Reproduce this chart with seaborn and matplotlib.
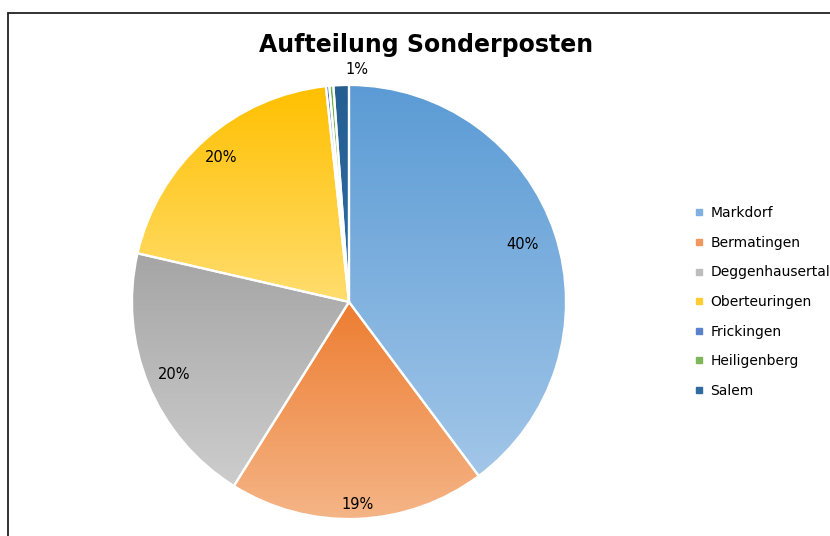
import numpy as np
import matplotlib
matplotlib.use("Agg")
import matplotlib.pyplot as plt
import seaborn as sns
from matplotlib.colors import LinearSegmentedColormap, to_rgb
from matplotlib.lines import Line2D

# data
orte = ["Markdorf", "Bermatingen", "Deggenhausertal", "Oberteuringen",
        "Frickingen", "Heiligenberg", "Salem"]
anteile = [39.8, 19.1, 19.7, 19.7, 0.25, 0.3, 1.15]

# top (dark) and bottom (light) colour of each slice gradient
farben_oben = ["#5B9BD5", "#ED7D31", "#A5A5A5", "#FFC000", "#4472C4", "#70AD47", "#255E91"]
farben_unten = ["#A2C6E8", "#F5B587", "#CDCDCD", "#FFDD6E", "#6E92D2", "#8EC06C", "#2E6DA6"]
legende_farben = ["#7EB0E0", "#F09860", "#BDBDBD", "#FFCC33", "#5A82CC", "#80B65A", "#2F6AA0"]

# label distance from centre (fraction of radius), Excel "best fit" look
label_abstand = [0.84, 0.935, 0.87, 0.89, 0.0, 0.0, 1.07]

sns.set_theme(style="white")
plt.rcParams["font.family"] = ["DejaVu Sans"]
plt.rcParams["text.color"] = "black"

fig = plt.figure(figsize=(8.3, 5.36), dpi=100)
ax = fig.add_axes([132 / 830, 17 / 536, 434 / 830, 434 / 536])

wedges, texts = ax.pie(anteile, startangle=90, counterclock=False, radius=1,
                       colors=farben_oben,
                       wedgeprops=dict(edgecolor="white", linewidth=1.6))
ax.set_aspect("equal")
ax.axis("off")

gesamt = sum(anteile)
for w, oben, unten, wert, dist in zip(wedges, farben_oben, farben_unten, anteile, label_abstand):
    # vertical gradient clipped to the wedge
    verts = w.get_path().vertices
    verts = w.get_patch_transform().transform(verts)
    x0, x1 = verts[:, 0].min(), verts[:, 0].max()
    y0, y1 = verts[:, 1].min(), verts[:, 1].max()
    cmap = LinearSegmentedColormap.from_list("g", [to_rgb(unten), to_rgb(oben)])
    grad = np.linspace(0, 1, 256).reshape(-1, 1)
    im = ax.imshow(grad, cmap=cmap, origin="lower", aspect="auto",
                   extent=[x0, x1, y0, y1], zorder=w.get_zorder())
    im.set_clip_path(w)
    w.set_facecolor("none")
    w.set_zorder(w.get_zorder() + 0.5)

    pct = wert / gesamt * 100
    if round(pct) >= 1:
        theta = np.deg2rad((w.theta1 + w.theta2) / 2)
        tx, ty = dist * np.cos(theta), dist * np.sin(theta)
        if dist > 1:
            ax.annotate("%d%%" % round(pct), (tx, ty), xytext=(12, 0),
                        textcoords="offset points", ha="center", va="center",
                        fontsize=10.5, color="black", annotation_clip=False)
        else:
            ax.text(tx, ty, "%d%%" % round(pct), ha="center", va="center",
                    fontsize=10.5, color="black", zorder=10)

ax.set_xlim(-1, 1)
ax.set_ylim(-1, 1)

fig.text(0.513, 1 - 45 / 536, "Aufteilung Sonderposten", ha="center", va="center",
         fontsize=17, fontweight="bold", color="black")

handles = [Line2D([0], [0], marker="s", linestyle="none", markersize=5,
                  markerfacecolor=c, markeredgecolor=c) for c in legende_farben]
fig.legend(handles, orte, loc="center left", bbox_to_anchor=(695 / 830, 1 - 302 / 536),
           frameon=False, fontsize=10, labelspacing=1.12, handlelength=0.6,
           handletextpad=0.5, borderpad=0, borderaxespad=0, labelcolor="black")

# chart area border (only left and top edge visible)
bx, by = 7.5 / 830, 1 - 12.5 / 536
fig.add_artist(Line2D([bx, bx], [0, by], color="#222222", linewidth=1.3, transform=fig.transFigure))
fig.add_artist(Line2D([bx, 1], [by, by], color="#222222", linewidth=1.3, transform=fig.transFigure))

fig.savefig("out.png", dpi=100, facecolor="white")
